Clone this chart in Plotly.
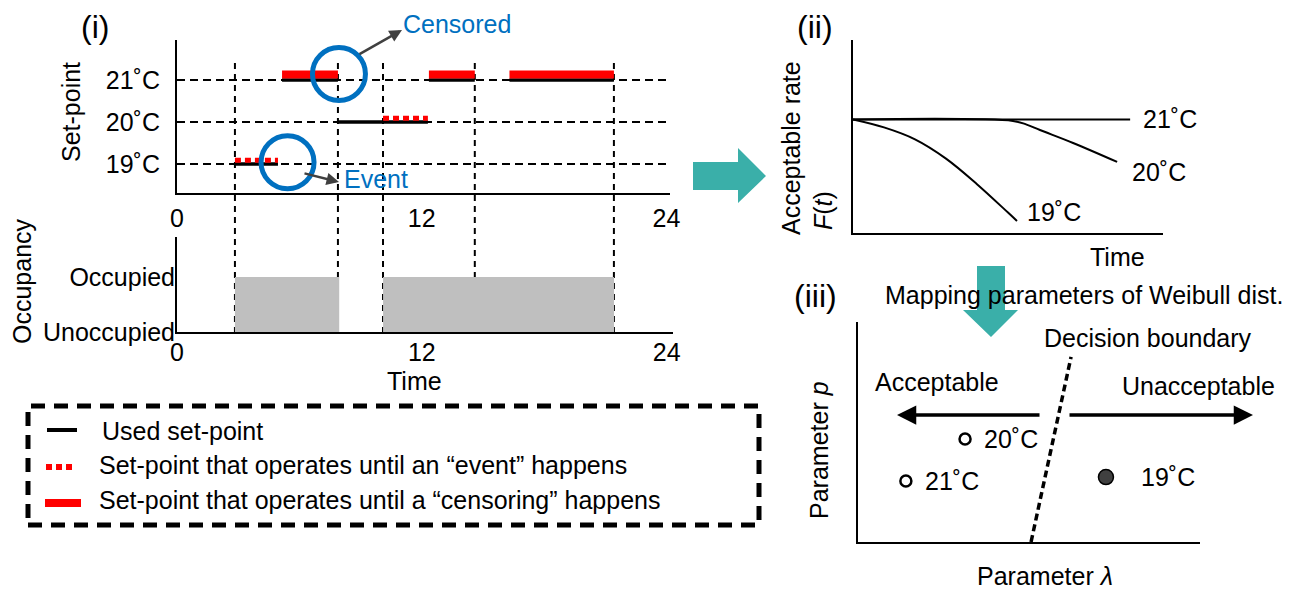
import plotly.graph_objects as go

W, H = 1310, 589

# ---------------- data ----------------
hour_ticks = [0, 12, 24]
setpoint_levels = [19, 20, 21]
setpoint_labels = ["19˚C", "20˚C", "21˚C"]

# used set-point segments (hours, level)
used_start = [2.84, 5.15, 7.89, 12.35, 16.3]
used_end = [4.95, 7.89, 12.3, 14.6, 21.42]
used_level = [19, 21, 20, 21, 21]

# set-point operating until an "event"
event_start = [2.84, 10.1]
event_end = [4.95, 12.3]
event_level = [19, 20]

# set-point operating until a "censoring"
censor_start = [5.15, 12.35, 16.3]
censor_end = [7.89, 14.6, 21.42]
censor_level = [21, 21, 21]

# switching times (vertical dashed lines)
switch_times = [2.84, 7.89, 10.1, 14.6, 21.42]

# occupancy
occ_levels = [0, 1]
occ_labels = ["Unoccupied", "Occupied"]
occ_start = [2.84, 10.1]
occ_end = [7.95, 21.42]

# highlighted circles (censored, event)
circle_t = [7.94, 5.42]
circle_level = [21.14, 19.04]

# (ii) acceptable-rate curves
t21 = [0, 8.94]
f21 = [1.0, 1.0]
t20 = [0, 5.16, 5.6, 6.03, 7.1, 8.52]
f20 = [1.0, 0.987, 0.955, 0.907, 0.793, 0.626]
t19 = [0, 1.0, 2.0, 3.0, 4.0, 5.0, 5.29]
f19 = [1.0, 0.93, 0.825, 0.655, 0.43, 0.18, 0.106]

# (iii) Weibull parameter map
pt_lambda = [0.14, 0.313, 0.725]
pt_p = [0.277, 0.468, 0.295]
pt_labels = ["21˚C", "20˚C", "19˚C"]
pt_acceptable = [True, True, False]
boundary_lambda = [0.506, 0.623]
boundary_p = [0.0, 0.841]

# ---------------- helpers ----------------
def fx(px):
    return px / W


def fy(py):
    return 1 - py / H


def segs(starts, ends, levels, off=0.0):
    xs, ys = [], []
    for s, e, l in zip(starts, ends, levels):
        xs += [s, e, None]
        ys += [l + off, l + off, None]
    return xs, ys


FONT = "Liberation Sans, Arial, sans-serif"
FS = 25
RED = "#FF0000"
BLUE = "#0070C0"
TEAL = "#3AAFA9"
GREY = "#BFBFBF"

fig = go.Figure()

# ---- (i) set-point panel ----
ux, uy = segs(used_start, used_end, used_level)
fig.add_trace(go.Scatter(x=ux, y=uy, mode="lines", line=dict(color="black", width=3.5),
                         xaxis="x", yaxis="y", hoverinfo="skip"))
ex, ey = segs(event_start, event_end, event_level, 0.09)
fig.add_trace(go.Scatter(x=ex, y=ey, mode="lines",
                         line=dict(color=RED, width=5, dash="6px,4px"),
                         xaxis="x", yaxis="y", hoverinfo="skip"))
cx, cy = segs(censor_start, censor_end, censor_level, 0.13)
fig.add_trace(go.Scatter(x=cx, y=cy, mode="lines", line=dict(color=RED, width=8),
                         xaxis="x", yaxis="y", hoverinfo="skip"))
fig.add_trace(go.Scatter(x=circle_t, y=circle_level, mode="markers",
                         marker=dict(symbol="circle-open", size=53, color=BLUE,
                                     line=dict(width=5, color=BLUE)),
                         cliponaxis=False, xaxis="x", yaxis="y", hoverinfo="skip"))

# ---- (i) occupancy panel ----
for s, e in zip(occ_start, occ_end):
    fig.add_trace(go.Scatter(x=[s, s, e, e, s],
                             y=[occ_levels[0], occ_levels[1], occ_levels[1], occ_levels[0], occ_levels[0]],
                             mode="lines", fill="toself", fillcolor=GREY,
                             line=dict(width=0, color=GREY),
                             xaxis="x2", yaxis="y2", hoverinfo="skip"))

# ---- (ii) curves ----
for tt, ff in [(t21, f21), (t20, f20), (t19, f19)]:
    fig.add_trace(go.Scatter(x=tt, y=ff, mode="lines",
                             line=dict(color="black", width=2, shape="spline", smoothing=1.0),
                             xaxis="x3", yaxis="y3", hoverinfo="skip"))

# ---- (iii) parameter map ----
fig.add_trace(go.Scatter(x=boundary_lambda, y=boundary_p, mode="lines",
                         line=dict(color="black", width=3.5, dash="7px,4px"),
                         xaxis="x4", yaxis="y4", hoverinfo="skip"))
for lam, pp, ok in zip(pt_lambda, pt_p, pt_acceptable):
    fig.add_trace(go.Scatter(
        x=[lam], y=[pp], mode="markers",
        marker=dict(size=11 if ok else 15, color="white" if ok else "#404040",
                    line=dict(color="black", width=2.5 if ok else 1.5)),
        xaxis="x4", yaxis="y4", hoverinfo="skip"))

axis_common = dict(showline=True, linecolor="black", linewidth=2, zeroline=False,
                   showgrid=False, ticks="", fixedrange=True, automargin=False,
                   tickfont=dict(family=FONT, size=FS, color="black"))

layout = dict(
    width=W, height=H, margin=dict(l=0, r=0, t=0, b=0),
    paper_bgcolor="white", plot_bgcolor="rgba(0,0,0,0)", showlegend=False,
    font=dict(family=FONT, size=FS, color="black"),
    xaxis=dict(axis_common, domain=[fx(177), fx(670)], range=[0, 24.17],
               tickvals=hour_ticks, anchor="y", ticklabelstandoff=2),
    yaxis=dict(axis_common, domain=[fy(193), fy(40)], range=[18.31, 21.95],
               tickvals=setpoint_levels, ticktext=setpoint_labels, anchor="x",
               showgrid=True, gridcolor="black", gridwidth=2, griddash="8px,5px",
               ticklabelstandoff=10),
    xaxis2=dict(axis_common, domain=[fx(177), fx(673)], range=[0, 24.31],
                tickvals=hour_ticks, anchor="y2", ticklabelstandoff=-3),
    yaxis2=dict(axis_common, domain=[fy(332), fy(237)], range=[0, 1.727],
                tickvals=occ_levels, ticktext=occ_labels, anchor="x2",
                ticklabelstandoff=-5),
    xaxis3=dict(axis_common, domain=[fx(853), fx(1163)], range=[0, 10],
                showticklabels=False, anchor="y3"),
    yaxis3=dict(axis_common, domain=[fy(233), fy(40)], range=[0, 1.7],
                showticklabels=False, anchor="x3"),
    xaxis4=dict(axis_common, domain=[fx(858), fx(1200)], range=[0, 1],
                showticklabels=False, anchor="y4"),
    yaxis4=dict(axis_common, domain=[fy(542), fy(322)], range=[0, 1],
                showticklabels=False, anchor="x4"),
)
fig.update_layout(**layout)

shapes = []
# vertical dashed switch lines spanning both (i) panels
for t in switch_times:
    shapes.append(dict(type="line", xref="x", yref="paper", x0=t, x1=t,
                       y0=fy(333), y1=fy(60), layer="below",
                       line=dict(color="black", width=2, dash="6px,5px")))
# legend box
shapes.append(dict(type="rect", xref="paper", yref="paper", x0=fx(28), x1=fx(759),
                   y0=fy(525), y1=fy(406), line=dict(color="black", width=5, dash="14px,9px")))
shapes.append(dict(type="line", xref="paper", yref="paper", x0=fx(47), x1=fx(77),
                   y0=fy(430), y1=fy(430), line=dict(color="black", width=4)))
shapes.append(dict(type="line", xref="paper", yref="paper", x0=fx(46), x1=fx(76),
                   y0=fy(467), y1=fy(467), line=dict(color=RED, width=6, dash="6px,4px")))
shapes.append(dict(type="line", xref="paper", yref="paper", x0=fx(45), x1=fx(81),
                   y0=fy(503), y1=fy(503), line=dict(color=RED, width=8)))


def poly(pts):
    return "M " + " L ".join(f"{fx(a):.5f},{fy(b):.5f}" for a, b in pts) + " Z"


shapes.append(dict(type="path", xref="paper", yref="paper", layer="below",
                   path=poly([(693, 162), (738, 162), (738, 148), (766, 176),
                              (738, 203), (738, 190), (693, 190)]),
                   fillcolor=TEAL, line=dict(width=0)))
shapes.append(dict(type="path", xref="paper", yref="paper", layer="below",
                   path=poly([(977, 266), (1005, 266), (1005, 310), (1018, 310),
                              (991, 337), (963, 310), (977, 310)]),
                   fillcolor=TEAL, line=dict(width=0)))
fig.update_layout(shapes=shapes)

ann = []


def txt(text, px, py, xanchor="center", yanchor="middle", size=FS, color="black", angle=0):
    ann.append(dict(text=text, x=fx(px), y=fy(py), xref="paper", yref="paper",
                    xanchor=xanchor, yanchor=yanchor, showarrow=False, textangle=angle,
                    font=dict(family=FONT, size=size, color=color)))


def arrow(hx, hy, tx, ty, width, color, head=2, size=1):
    ann.append(dict(x=fx(hx), y=fy(hy), xref="paper", yref="paper",
                    ax=tx - hx, ay=ty - hy, text="", showarrow=True, arrowhead=head,
                    arrowsize=size, arrowwidth=width, arrowcolor=color))


txt("(i)", 95, 27, size=32)
txt("(ii)", 815, 27, size=32)
txt("(iii)", 815, 296, size=32)
txt("Set-point", 71, 112, angle=-90)
txt("Occupancy", 22, 281, angle=-90)
txt("Time", 415, 381)
txt("Censored", 401, 24, xanchor="left", color=BLUE)
txt("Event", 342, 179, xanchor="left", color=BLUE)

# arrows from circles to labels
arrow(402, 30, 358, 55, 2.5, "#404040")
arrow(339, 182, 303, 173, 2.5, "#404040")

# legend texts
txt("Used set-point", 100, 431, xanchor="left")
txt("Set-point that operates until an “event” happens", 97, 465, xanchor="left")
txt("Set-point that operates until a “censoring” happens", 97, 500, xanchor="left")

# (ii) labels
txt("Acceptable rate", 791, 148, angle=-90)
txt("<i>F</i>(<i>t</i>)", 823, 211, angle=-90)
txt("Time", 1117, 257)
for tt, ff, lab, xs, ys in [(t21, f21, "21˚C", 11, 0), (t20, f20, "20˚C", 13, -10),
                            (t19, f19, "19˚C", 8, 9)]:
    ann.append(dict(text=lab, x=tt[-1], y=ff[-1], xref="x3", yref="y3", xanchor="left",
                    yanchor="middle", xshift=xs, yshift=ys, showarrow=False,
                    font=dict(family=FONT, size=FS, color="black")))

# (iii) labels
txt("Mapping parameters of Weibull dist.", 883, 295, xanchor="left")
txt("Decision boundary", 1042, 338, xanchor="left")
txt("Acceptable", 873, 382, xanchor="left")
txt("Unacceptable", 1120, 386, xanchor="left")
txt("Parameter <i>p</i>", 819, 450, angle=-90)
txt("Parameter <i>λ</i>", 975, 576, xanchor="left")
for lam, pp, lab, ok in zip(pt_lambda, pt_p, pt_labels, pt_acceptable):
    ann.append(dict(text=lab, x=lam, y=pp, xref="x4", yref="y4", xanchor="left",
                    yanchor="middle", xshift=17 if ok else 33, showarrow=False,
                    font=dict(family=FONT, size=FS, color="black")))

# acceptable / unacceptable direction arrows
arrow(897, 415, 1041, 415, 3.5, "black", head=2, size=1.1)
arrow(1253, 415, 1068, 415, 3.5, "black", head=2, size=1.1)

fig.update_layout(annotations=ann)
fig.write_html(
    "out.html",
    config={"displayModeBar": False},
    post_script="document.body.style.margin='0';document.body.style.overflow='hidden';",
)
